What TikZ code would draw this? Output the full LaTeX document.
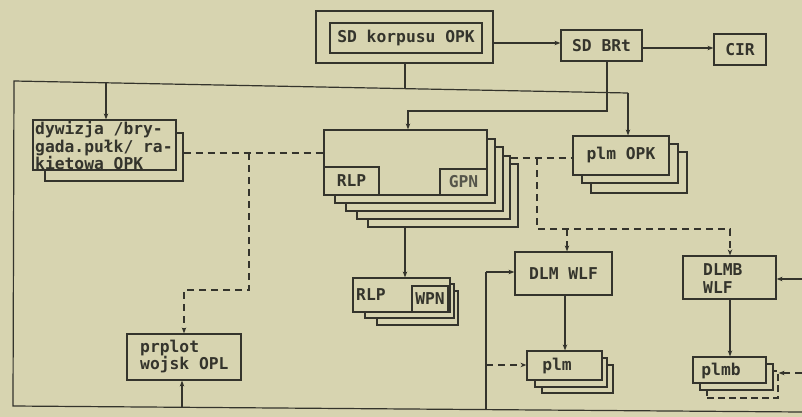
\documentclass[tikz,border=0pt]{standalone}
\usepackage{fontspec}
\newfontfamily\tw[WordSpace={1,0,0}]{DejaVu Sans Mono}
\usetikzlibrary{arrows.meta}
\definecolor{paper}{RGB}{215,212,176}
\definecolor{ink}{RGB}{52,52,44}
\definecolor{inkl}{RGB}{85,85,74}
\begin{document}
\begin{tikzpicture}[x=1pt,y=-1pt,
  line/.style={draw=ink,line width=1.2pt},
  dsh/.style={line,dash pattern=on 7pt off 5pt},
  arr/.style={-{Stealth[length=6pt,width=4.5pt]}},
  box/.style={line,fill=paper,rectangle,inner sep=0pt,text=ink,
    font=\tw\bfseries\fontsize{16.3}{17.5}\selectfont},
  txt/.style={inner sep=0pt,text=ink,font=\tw\bfseries\fontsize{16.3}{17.5}\selectfont},
  dbox/.style={box,dash pattern=on 7pt off 4pt},
]
\fill[paper] (0,0) rectangle (802,417);
\useasboundingbox (0,0) rectangle (802,417);

% ---- frame lines ----
\coordinate (busL) at (14,81);
\coordinate (busR) at (628,93);
\coordinate (botL) at (13,406);
\coordinate (botR) at (802,412);
\draw[line] (busR) -- (busL) -- (botL) -- (botR);

% ---- boxes: top ----
\node[box,minimum width=177pt,minimum height=52pt] (sdk) at (404.5,37) {};
\node[box,minimum width=152pt,minimum height=30pt] (sdkin) at (406,38) {SD korpusu OPK};
\node[box,minimum width=81pt,minimum height=31pt] (sdb) at (601.5,45.5) {SD BRt};
\node[box,minimum width=52pt,minimum height=31pt] (cir) at (740,49.5) {CIR};

% dywizja stack
\node[box,minimum width=138pt,minimum height=48pt] (dywb) at (114,157) {};
\node[box,minimum width=143pt,minimum height=50pt] (dyw) at (104.5,145) {};
\node[txt,align=left,anchor=west] (dywt) at (35,145.5)
  {dywizja /bry-\\gada.pułk/ ra-\\kietowa OPK};

% big RLP/GPN stack
\node[box,minimum width=150pt,minimum height=63pt] (big4) at (443,195.5) {};
\node[box,minimum width=153pt,minimum height=63pt] (big3) at (433.5,187.5) {};
\node[box,minimum width=157pt,minimum height=64pt] (big2) at (424.5,179) {};
\node[box,minimum width=160pt,minimum height=64pt] (big1) at (415,171) {};
\node[box,minimum width=163pt,minimum height=65pt] (big) at (405.5,162.5) {};
\node[box,minimum width=55pt,minimum height=28pt] (rlp1) at (351.5,181) {RLP};
\node[box,minimum width=47pt,minimum height=26pt,text=inkl] (gpn) at (463.5,182) {GPN};

% RLP/WPN stack
\node[box,minimum width=81pt,minimum height=34pt] (rwb2) at (417.5,308) {};
\node[box,minimum width=89pt,minimum height=34pt] (rwb1) at (409.5,301) {};
\node[box,minimum width=97pt,minimum height=34pt] (rw) at (401.5,295) {};
\node[txt,anchor=west] (rwt) at (356,294.5) {RLP};
\node[box,minimum width=36pt,minimum height=26pt] (wpn) at (430,299) {WPN};

% plm OPK stack
\node[box,minimum width=96pt,minimum height=41pt] (opkb2) at (639,172.5) {};
\node[box,minimum width=96pt,minimum height=39pt] (opkb1) at (630,163.5) {};
\node[box,minimum width=96pt,minimum height=39pt] (opk) at (621,155.5) {plm OPK};

% prplot
\node[box,minimum width=114pt,minimum height=46pt] (prp) at (184,357) {};
\node[txt,align=left,anchor=west] (prpt) at (140,356.5) {prplot\\wojsk OPL};

% DLM WLF and plm
\node[box,minimum width=97pt,minimum height=43pt] (dlm) at (563.5,273.5) {DLM WLF};
\node[box,minimum width=71pt,minimum height=28pt] (plmb2) at (577.5,379) {};
\node[box,minimum width=72pt,minimum height=29pt] (plmb1) at (571,372.5) {};
\node[box,minimum width=75pt,minimum height=29pt] (plm) at (564.5,365.5) {};
\node[txt] (plmt) at (557,366) {plm};

% DLMB WLF and plmb
\node[box,minimum width=93pt,minimum height=43pt] (dlmb) at (729.5,277.5) {};
\node[txt,align=left,anchor=west] (dlmbt) at (703,278.5) {DLMB\\WLF};
\node[dbox,minimum width=71pt,minimum height=27pt] (plmbb2) at (742.5,384.5) {};
\node[box,minimum width=73pt,minimum height=26pt] (plmbb1) at (736.5,377) {};
\node[box,minimum width=73pt,minimum height=26pt] (plmb) at (729.5,370) {};
\node[txt] (plmbt) at (721,371) {plmb};

% ---- connectors between nodes ----
\draw[line,arr] (sdk.east |- 0,43) -- (sdb.west |- 0,43);
\draw[line,arr] (sdb.east |- 0,48) -- (cir.west |- 0,48);
\draw[line] (sdk.south -| 405,0) -- (405,88.5);
\draw[line,arr] (106,82.6) -- (dyw.north -| 106,0);
\draw[line,arr] (busR) -- (opk.north -| 628,0);
\draw[line,arr] (sdb.south -| 607,0) -- (607,111) -- (408,111) -- (big.north -| 408,0);
\draw[line,arr] (big4.south -| 405,0) -- (rw.north -| 405,0);
\draw[dsh] (dywb.east |- 0,153) -- (big.west |- 0,153);
\draw[dsh,arr] (249,153) -- (249,290) -- (184,290) -- (prp.north -| 184,0);
\draw[line,arr] (182,407.3) -- (prp.south -| 182,0);
\draw[dsh] (big3.east |- 0,158) -- (opk.west |- 0,158);
\draw[dsh,arr] (537,158) -- (537,229) -- (730,229) -- (dlmb.north -| 730,0);
\draw[dsh,arr] (567,229) -- (dlm.north -| 567,0);
\draw[line] (486,409.6) -- (486,272);
\draw[line,arr] (486,272) -- (dlm.west |- 0,272);
\draw[dsh,arr] (486,365) -- (plm.west |- 0,365);
\draw[line,arr] (dlm.south -| 565,0) -- (plm.north -| 565,0);
\draw[line,arr] (dlmb.south -| 730,0) -- (plmb.north -| 730,0);
\coordinate (rE1) at (802,279);
\coordinate (rE2) at (802,373);
\draw[line,arr] (rE1) -- (dlmb.east |- rE1);
\draw[dsh,arr] (rE2) -- (plmbb2.east |- rE2);
\end{tikzpicture}
\end{document}
